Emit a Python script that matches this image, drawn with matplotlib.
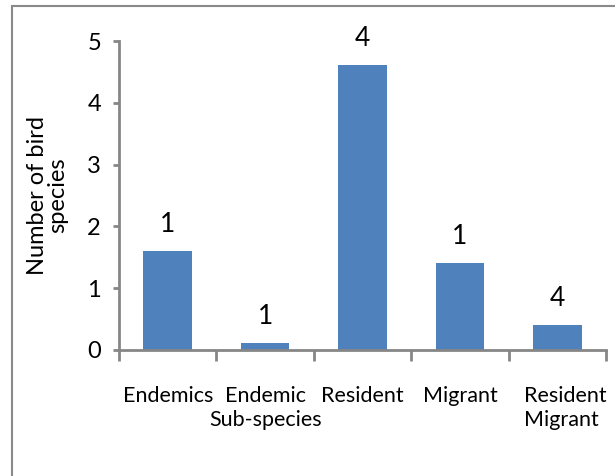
import matplotlib
matplotlib.use("Agg")
import matplotlib.pyplot as plt
import matplotlib.transforms as mtransforms
from matplotlib.patches import Rectangle

categories = ["Endemics", "Endemic\nSub-species", "Resident", "Migrant", "Resident\nMigrant"]
values = [1.6, 0.11, 4.61, 1.41, 0.40]
labels = ["1", "1", "4", "1", "4"]
yticks = [0, 1, 2, 3, 4, 5]

plt.rcParams['font.family'] = ['Lato', 'DejaVu Sans']

fig = plt.figure(figsize=(6.15, 4.76), dpi=100)
ax = fig.add_axes([119/615, 1-350/476, (606-119)/615, (350-41)/476])

x = list(range(len(categories)))
bars = ax.bar(x, values, width=0.5, color="#4F81BD", zorder=2)
for b, lab in zip(bars, labels):
    ax.annotate(lab, (b.get_x() + b.get_width()/2, b.get_height()),
                xytext=(0, 10), textcoords="offset points",
                ha="center", va="bottom", fontsize=19)

ax.set_xlim(-0.5, len(categories) - 0.5)
ax.set_ylim(0, 5)
ax.set_yticks(yticks)
ax.set_yticklabels([str(t) for t in yticks], fontsize=17)
ax.set_xticks(x)
ax.set_xticklabels(categories, fontsize=15.5, linespacing=1.25)
ax.set_xticks([i - 0.5 for i in range(len(categories) + 1)], minor=True)
ax.tick_params(axis='x', which='major', length=0, pad=26)
ax.tick_params(axis='x', which='minor', length=8, width=2, color="#868686", direction='out')
ax.tick_params(axis='y', length=4, width=2, color="#868686", direction='out', pad=9)

last = ax.get_xticklabels()[-1]
last.set_multialignment('left')
last.set_transform(last.get_transform() + mtransforms.ScaledTranslation(8/100, 0, fig.dpi_scale_trans))

for s in ['top', 'right']:
    ax.spines[s].set_visible(False)
for s in ['left', 'bottom']:
    ax.spines[s].set_color("#868686")
    ax.spines[s].set_linewidth(2)

ax.set_ylabel("Number of bird\nspecies", fontsize=17, linespacing=0.95)
ax.yaxis.set_label_coords(-0.105, 0.5)

fig.patches.append(Rectangle((12/615, -0.1), 1.0, 1.1 - 6/476, transform=fig.transFigure,
                             fill=False, edgecolor="#8a8a8a", linewidth=1.5, zorder=0))

fig.savefig("out.png", dpi=100)
